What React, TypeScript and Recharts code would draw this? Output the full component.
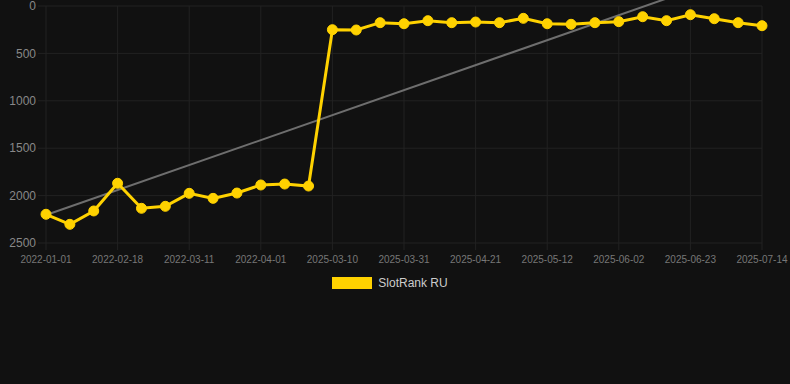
import React from 'react';
import { LineChart, Line, XAxis, YAxis, CartesianGrid, Legend, ReferenceLine } from 'recharts';

const dates = [
  '2022-01-01', '2022-01-17', '2022-02-02', '2022-02-18', '2022-02-25', '2022-03-04',
  '2022-03-11', '2022-03-18', '2022-03-25', '2022-04-01', '2022-04-08', '2022-04-15',
  '2025-03-10', '2025-03-17', '2025-03-24', '2025-03-31', '2025-04-07', '2025-04-14',
  '2025-04-21', '2025-04-28', '2025-05-05', '2025-05-12', '2025-05-19', '2025-05-26',
  '2025-06-02', '2025-06-09', '2025-06-16', '2025-06-23', '2025-06-30', '2025-07-07',
  '2025-07-14',
];

const rankRU = [
  2197, 2303, 2162, 1870, 2134, 2113, 1976, 2029, 1973, 1888, 1878, 1899,
  250, 253, 176, 187, 155, 176, 169, 176, 130, 187, 193, 176, 165, 113,
  155, 92, 134, 176, 208,
];

// trend line: just the two ends
const trendStart = 2205;
const trendEnd = -430;

const yTicks = [0, 500, 1000, 1500, 2000, 2500];

const data = dates.map((d, i) => ({ date: d, rank: rankRU[i] }));

const YELLOW = '#FFD200';
const GRID = '#222222';

const LegendBox = () => (
  <div style={{ height: 20, display: 'flex', justifyContent: 'center', alignItems: 'center', paddingLeft: 12 }}>
    <div style={{ width: 40, height: 12, background: YELLOW, marginRight: 6 }} />
    <span style={{ color: '#cccccc', fontSize: 12 }}>SlotRank RU</span>
  </div>
);

export default function App() {
  return (
    <div style={{ width: 790, height: 384, background: '#111111', fontFamily: 'Arial, "Liberation Sans", sans-serif' }}>
      <style>{'body{margin:0;background:#111111}'}</style>
      <LineChart
        width={790}
        height={384}
        data={data}
        margin={{ top: 6, right: 28, left: 6, bottom: 91 }}
      >
        <CartesianGrid stroke={GRID} strokeWidth={1} />
        <XAxis
          dataKey="date"
          interval={2}
          height={30}
          axisLine={false}
          tickLine={{ stroke: GRID }}
          tickSize={7}
          tickMargin={6}
          tick={{ fill: '#777777', fontSize: 10 }}
        />
        <YAxis
          reversed
          domain={[0, 2500]}
          ticks={yTicks}
          interval={0}
          allowDataOverflow
          width={40}
          axisLine={false}
          tickLine={{ stroke: GRID }}
          tickSize={8}
          tickMargin={2}
          tick={{ fill: '#888888', fontSize: 12 }}
        />
        <Legend verticalAlign="bottom" content={() => <LegendBox />} />
        <ReferenceLine
          segment={[
            { x: dates[0], y: trendStart },
            { x: dates[dates.length - 1], y: trendEnd },
          ]}
          ifOverflow="visible"
          stroke="#6e6e6e"
          strokeWidth={2}
        />
        <Line
          dataKey="rank"
          stroke={YELLOW}
          strokeWidth={3}
          dot={{ r: 5, fill: YELLOW, stroke: YELLOW, strokeWidth: 1 }}
          isAnimationActive={false}
        />
      </LineChart>
    </div>
  );
}
